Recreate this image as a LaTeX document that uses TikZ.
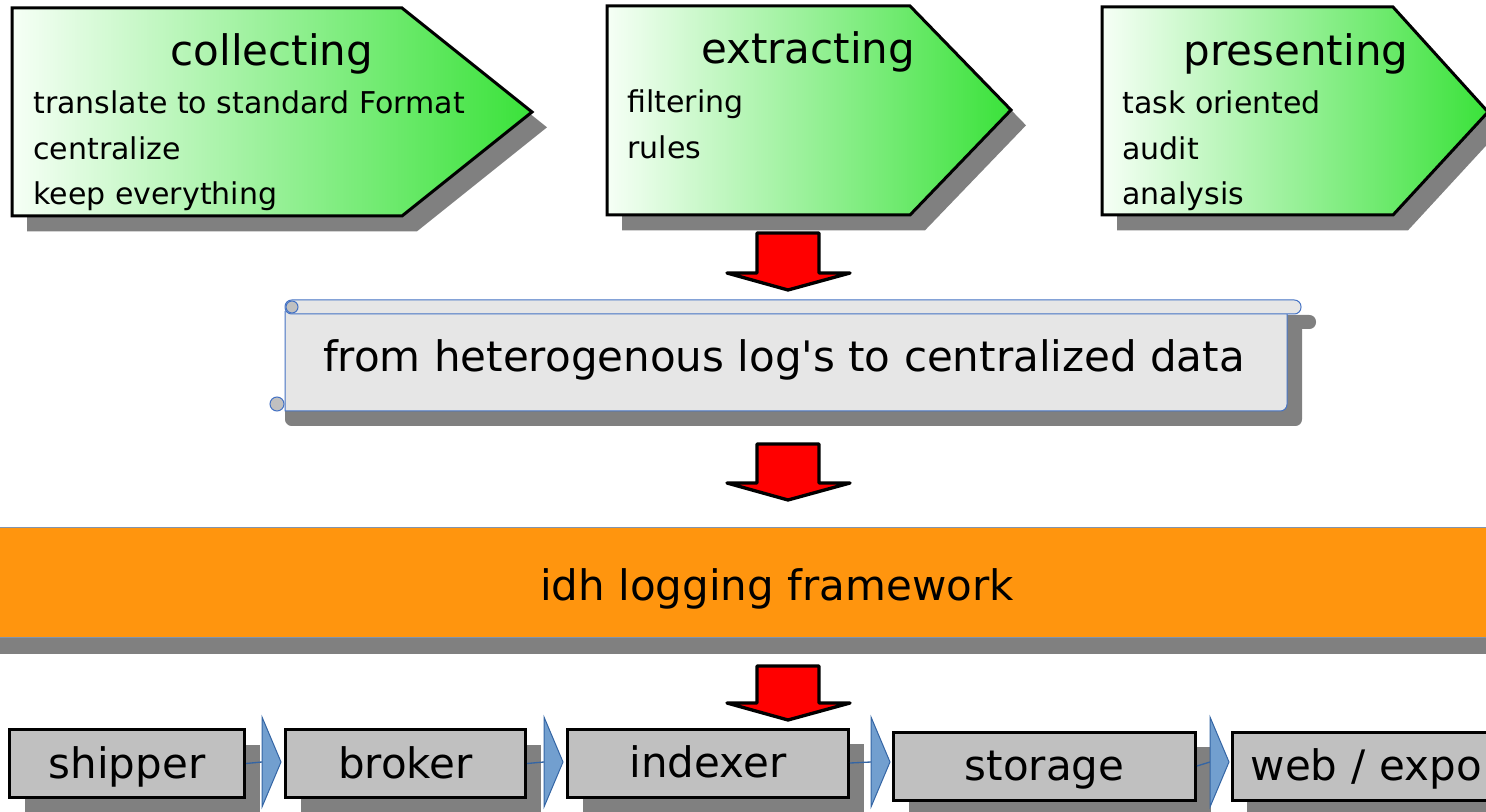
\documentclass[tikz,border=0pt]{standalone}
\usepackage{fontspec}
\setmainfont{DejaVu Sans}

\definecolor{shadowgray}{RGB}{128,128,128}
\definecolor{pentwhite}{RGB}{246,255,246}
\definecolor{pentgreen}{RGB}{58,226,58}
\definecolor{boxgray}{RGB}{192,192,192}
\definecolor{scrollfill}{RGB}{230,230,230}
\definecolor{scrollline}{RGB}{68,114,196}
\definecolor{framecol}{RGB}{255,149,14}
\definecolor{frameline}{RGB}{130,148,172}
\definecolor{trifill}{RGB}{114,159,207}
\definecolor{triline}{RGB}{52,101,164}

\tikzset{every picture/.style={line width=0.75pt}}
\tikzset{
  dropshade/.style={preaction={fill=shadowgray, transform canvas={shift={(11.25pt,-11.5pt)}}}},
  pent/.style={draw=black, line width=2.25pt, line join=miter, left color=pentwhite, right color=pentgreen, dropshade},
  title/.style={font=\fontsize{31.5}{37}\selectfont, inner sep=0pt},
  item/.style={font=\fontsize{22.5}{27}\selectfont, inner sep=0pt},
  box/.style={draw=black, line width=2.25pt, fill=boxgray, minimum height=51pt, inner sep=0pt,
    font=\fontsize{31.5}{37}\selectfont, text height=29.2pt, text depth=7.4pt, dropshade},
  redarrow/.style={draw=black, line width=2.5pt, fill=red, line join=round},
  bluetri/.style={draw=triline, fill=trifill, line width=0.75pt},
  bluelink/.style={draw=triline, line width=1pt},
  scroll/.style={draw=scrollline, fill=scrollfill, line width=0.75pt}
}

\begin{document}
\begin{tikzpicture}[x=0.75pt,y=0.75pt,yscale=-1,xscale=1]
	\useasboundingbox (0,0) rectangle (1486,812);
	\clip (0,0) rectangle (1486,812);

	%Shape: Pentagon collecting
	\path [pent] (12,8) -- (402,8) -- (532,112) -- (402,216) -- (12,216) -- cycle ;
	%Shape: Pentagon extracting
	\path [pent] (607,6) -- (910,6) -- (1011,110) -- (910,215) -- (607,215) -- cycle ;
	%Shape: Pentagon presenting
	\path [pent] (1102,7) -- (1393,7) -- (1488,112) -- (1393,215) -- (1102,215) -- cycle ;

	% Text Node
	\node [title, anchor=base] (collecting) at (272,66) {collecting};
	\node [item, anchor=base west] (translate) at (33,114) {translate to standard Format};
	\node [item, anchor=base west] (centralize) at (33,159.5) {centralize};
	\node [item, anchor=base west] (keep) at (33,205) {keep everything};
	% Text Node
	\node [title, anchor=base] (extracting) at (808,64) {extracting};
	\node [item, anchor=base west] (filtering) at (627,113) {filtering};
	\node [item, anchor=base west] (rules) at (627,158.5) {rules};
	% Text Node
	\node [title, anchor=base] (presenting) at (1296,66) {presenting};
	\node [item, anchor=base west] (task) at (1122,114) {task oriented};
	\node [item, anchor=base west] (audit) at (1122,159.5) {audit};
	\node [item, anchor=base west] (analysis) at (1122,205) {analysis};

	%Shape: Block Arrow
	\draw [redarrow] (757,233) -- (819,233) -- (819,273) -- (850,273) -- (788,290) -- (727,273) -- (757,273) -- cycle ;

	%Shape: Scroll shadow
	\fill [shadowgray, rounded corners=5pt] (300,315) rectangle (1316,329) ;
	\fill [shadowgray, rounded corners=5pt] (285,322) rectangle (1302,426) ;
	%Shape: Scroll
	\draw [scroll] (285,311) -- (285,411) [rounded corners=5pt] -- (1287,411) [sharp corners] -- (1287,311) ;
	\draw [scroll, fill=boxgray] (277,404) circle (7) ;
	\draw [scroll, rounded corners=5pt] (285,300) rectangle (1301,314) ;
	\draw [scroll, fill=boxgray] (292,307) circle (6) ;
	% Text Node
	\node [title, anchor=base] (logs) at (784,372) {from heterogenous log\textquotesingle s to centralized data};

	%Shape: Block Arrow
	\draw [redarrow] (757,444) -- (819,444) -- (819,483) -- (850,483) -- (788,500) -- (727,483) -- (757,483) -- cycle ;

	%Shape: Framework bar
	\node [draw=frameline, fill=framecol, minimum width=1350pt, minimum height=82.5pt, inner sep=0pt,
	  font=\fontsize{31.5}{37}\selectfont, text height=31pt, text depth=4pt,
	  preaction={fill=shadowgray, transform canvas={shift={(0pt,-12pt)}}}] (framework) at (777,583) {idh logging framework};

	%Shape: Block Arrow
	\draw [redarrow] (757,666) -- (819,666) -- (819,703) -- (850,703) -- (788,720) -- (727,703) -- (757,703) -- cycle ;

	% Boxes
	\node [box, minimum width=176.25pt] (shipper) at (127,763.5) {shipper};
	\node [box, minimum width=180pt] (broker) at (405.5,763.5) {broker};
	\node [box, minimum width=210.75pt] (indexer) at (708,763) {indexer};
	\node [box, minimum width=226.5pt] (storage) at (1044.5,766) {storage};
	\node [box, inner xsep=14pt, text width=200pt, align=left] (web) at (1384,766) {web / expo};

	% Chevrons
	\coordinate (t1) at (262,762);
	\coordinate (t2) at (544,762);
	\coordinate (t3) at (871,762);
	\coordinate (t4) at (1210,762);
	\draw [bluelink] (shipper.east) -- (t1) ;
	\draw [bluelink] (broker.east) -- (t2) ;
	\draw [bluelink] (indexer.east) -- (t3) ;
	\draw [bluelink] (storage.east) -- (t4) ;
	\draw [bluetri] (262,717) -- (281,762) -- (262,807) -- cycle ;
	\draw [bluetri] (544,717) -- (563,762) -- (544,807) -- cycle ;
	\draw [bluetri] (871,717) -- (890,762) -- (871,807) -- cycle ;
	\draw [bluetri] (1210,717) -- (1229,762) -- (1210,807) -- cycle ;

\end{tikzpicture}
\end{document}
